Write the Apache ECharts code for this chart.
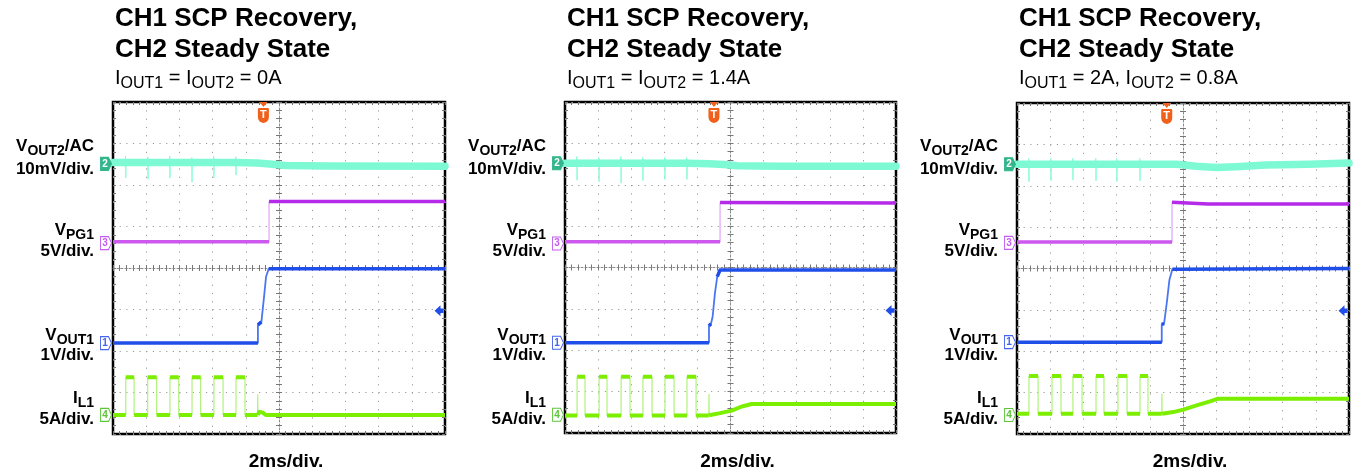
<!DOCTYPE html>
<html>
<head>
<meta charset="utf-8">
<script src="https://cdn.jsdelivr.net/npm/echarts@6/dist/echarts.min.js"></script>
<style>
  html, body { margin: 0; padding: 0; background: #fff; }
  #chart { width: 1353px; height: 476px; }
</style>
</head>
<body>
<div id="chart"></div>
<script>
// Scope captures: horizontal axis in ms from screen centre (2 ms/div, 10 div),
// vertical axis in divisions from screen centre (8 div). Points are [ms, div].

// ---------- Capture 1: IOUT1 = IOUT2 = 0A ----------
const p1Vout2 = [[-10,2.54],[-9.26,2.54],[-9.245,2.70],[-9.23,2.17],[-9.215,2.54],[-7.92,2.54],[-7.905,2.68],[-7.89,2.14],[-7.875,2.54],
  [-6.60,2.54],[-6.585,2.70],[-6.57,2.17],[-6.555,2.54],[-5.27,2.54],[-5.255,2.66],[-5.24,2.07],[-5.225,2.54],[-3.95,2.54],[-3.935,2.70],
  [-3.92,2.17],[-3.905,2.54],[-2.62,2.54],[-2.605,2.68],[-2.59,2.24],[-2.575,2.54],[-1.3,2.53],[-0.4,2.50],[0.4,2.47],[3,2.46],[10,2.45]];
const p1Vpg1 = [[-10,0.63],[-0.60,0.63],[-0.60,1.60],[10,1.60]];
const p1Vout1 = [[-10,-1.81],[-1.27,-1.81],[-1.27,-1.37],[-1.06,-1.30],[-0.90,-0.69],[-0.78,-0.21],[-0.62,-0.02],[10,-0.02]];
const p1IL1 = [[-10,-3.54],[-9.23,-3.54],[-9.23,-2.63],[-8.73,-2.63],[-8.73,-3.54],[-7.91,-3.54],[-7.91,-2.63],[-7.37,-2.63],[-7.37,-3.54],
  [-6.57,-3.54],[-6.57,-2.63],[-6.04,-2.63],[-6.04,-3.54],[-5.24,-3.54],[-5.24,-2.63],[-4.72,-2.63],[-4.72,-3.54],[-3.92,-3.54],[-3.92,-2.63],
  [-3.37,-2.63],[-3.37,-3.54],[-2.59,-3.54],[-2.59,-2.63],[-2.05,-2.63],[-2.05,-3.54],[-1.29,-3.54],[-1.28,-3.04],[-1.27,-3.54],[-1.2,-3.47],
  [-1.0,-3.48],[-0.8,-3.54],[10,-3.54]];

// ---------- Capture 2: IOUT1 = IOUT2 = 1.4A ----------
const p2Vout2 = [[-10,2.52],[-9.30,2.52],[-9.285,2.68],[-9.27,2.11],[-9.255,2.52],[-7.97,2.52],[-7.955,2.66],[-7.94,2.07],[-7.925,2.52],
  [-6.64,2.52],[-6.625,2.68],[-6.61,2.04],[-6.595,2.52],[-5.32,2.52],[-5.305,2.66],[-5.29,2.10],[-5.275,2.52],[-3.99,2.52],[-3.975,2.66],
  [-3.96,2.13],[-3.945,2.52],[-2.66,2.52],[-2.645,2.66],[-2.63,2.13],[-2.615,2.52],[-1.3,2.51],[-0.4,2.49],[0.4,2.46],[3,2.45],[10,2.45]];
const p2Vpg1 = [[-10,0.62],[-0.63,0.62],[-0.63,1.57],[10,1.56]];
const p2Vout1 = [[-10,-1.82],[-1.30,-1.82],[-1.30,-1.41],[-1.18,-1.36],[-1.08,-1.19],[-0.94,-0.62],[-0.80,-0.22],[-0.63,-0.06],[10,-0.06]];
const p2IL1 = [[-10,-3.58],[-9.27,-3.58],[-9.27,-2.64],[-8.79,-2.64],[-8.79,-3.58],[-7.94,-3.58],[-7.94,-2.64],[-7.46,-2.64],[-7.46,-3.58],
  [-6.61,-3.58],[-6.61,-2.64],[-6.07,-2.64],[-6.07,-3.58],[-5.29,-3.58],[-5.29,-2.64],[-4.74,-2.64],[-4.74,-3.58],[-3.96,-3.58],[-3.96,-2.64],
  [-3.41,-2.64],[-3.41,-3.58],[-2.63,-3.58],[-2.63,-2.64],[-2.08,-2.64],[-2.08,-3.58],[-1.31,-3.58],[-1.30,-3.06],[-1.29,-3.57],[-1.2,-3.56],
  [-0.63,-3.52],[0.07,-3.46],[0.68,-3.36],[1.28,-3.30],[10,-3.30]];

// ---------- Capture 3: IOUT1 = 2A, IOUT2 = 0.8A ----------
const p3Vout2 = [[-10,2.52],[-9.31,2.52],[-9.295,2.66],[-9.28,2.10],[-9.265,2.52],[-7.98,2.52],[-7.965,2.66],[-7.95,2.12],[-7.935,2.52],
  [-6.66,2.52],[-6.645,2.66],[-6.63,2.14],[-6.615,2.52],[-5.27,2.52],[-5.255,2.66],[-5.24,2.12],[-5.225,2.52],[-4.01,2.52],[-3.995,2.66],
  [-3.98,2.10],[-3.965,2.52],[-2.62,2.52],[-2.605,2.66],[-2.59,2.12],[-2.575,2.52],[-0.4,2.52],[0.8,2.47],[2.0,2.44],[3.2,2.46],[5,2.50],
  [7.6,2.52],[10,2.55]];
const p3Vpg1 = [[-10,0.64],[-0.66,0.64],[-0.66,1.60],[1.5,1.56],[10,1.56]];
const p3Vout1 = [[-10,-1.78],[-1.28,-1.78],[-1.28,-1.35],[-1.14,-1.33],[-0.98,-0.84],[-0.82,-0.28],[-0.64,-0.02],[10,0.0]];
const p3IL1 = [[-10,-3.51],[-9.28,-3.51],[-9.28,-2.60],[-8.73,-2.60],[-8.73,-3.51],[-7.89,-3.51],[-7.89,-2.60],[-7.35,-2.60],[-7.35,-3.51],
  [-6.63,-3.51],[-6.63,-2.60],[-6.08,-2.60],[-6.08,-3.51],[-5.24,-3.51],[-5.24,-2.60],[-4.76,-2.60],[-4.76,-3.51],[-3.92,-3.51],[-3.92,-2.60],
  [-3.37,-2.60],[-3.37,-3.51],[-2.59,-3.51],[-2.59,-2.60],[-2.11,-2.60],[-2.11,-3.51],[-1.28,-3.51],[-1.27,-3.03],[-1.26,-3.51],[-1.2,-3.51],
  [-0.59,-3.47],[0.02,-3.41],[0.82,-3.31],[1.63,-3.21],[2.07,-3.15],[10,-3.15]];

// Channel reference (ground) levels per capture, order: CH2, CH3, CH1, CH4
const groundLevels = [[2.51, 0.60, -1.81, -3.54], [2.52, 0.58, -1.82, -3.56], [2.52, 0.62, -1.78, -3.54]];
// Trigger time (ms) and CH1 trigger level (div) per capture
const triggerTimes = [-0.94, -1.00, -0.98];
const triggerLevels = [-1.03, -1.04, -1.02];
// VPG1 rising-edge time (ms) per capture
const pgEdgeTimes = [-0.60, -0.63, -0.66];

// Text
const titleLine1 = 'CH1 SCP Recovery,';
const titleLine2 = 'CH2 Steady State';
const loadText = [
  '{m|I}{s|OUT1}{m| = I}{s|OUT2}{m| = 0A}',
  '{m|I}{s|OUT1}{m| = I}{s|OUT2}{m| = 1.4A}',
  '{m|I}{s|OUT1}{m| = 2A, I}{s|OUT2}{m| = 0.8A}'
];
const channelNames = ['{m|V}{s|OUT2}{m|/AC}', '{m|V}{s|PG1}', '{m|V}{s|OUT1}', '{m|I}{s|L1}'];
const channelScales = ['10mV/div.', '5V/div.', '1V/div.', '5A/div.'];
const channelNumbers = ['2', '3', '1', '4'];
const timeScale = '2ms/div.';

const traces = [
  [p1Vout2, p1Vpg1, p1Vout1, p1IL1],
  [p2Vout2, p2Vpg1, p2Vout1, p2IL1],
  [p3Vout2, p3Vpg1, p3Vout1, p3IL1]
];

// ---------- Layout and styles ----------
const FONT = "'Liberation Sans', Arial, Helvetica, sans-serif";
const grids = [
  { left: 113, top: 102, width: 332, height: 332 },
  { left: 565, top: 102, width: 331, height: 331 },
  { left: 1017, top: 103, width: 332, height: 331 }
];
const chStyle = [
  { color: '#7dfad4', edge: '#8afcdb', width: 7.5, edgeWidth: 1, cap: 'round', box: '#33b68c', filled: true },
  { color: '#bd3af0', edge: '#e0a4f6', width: 3.5, edgeWidth: 1.2, cap: 'butt', box: '#c35cf0' },
  { color: '#1f4fe8', edge: '#4b76f2', width: 3.5, edgeWidth: 1.8, cap: 'butt', box: '#4563ee' },
  { color: '#7cee00', edge: '#b0f27a', width: 4, edgeWidth: 1.2, cap: 'butt', box: '#5ec63a' }
];
const PG_LOW = '#cc58ee', PG_HIGH = '#b42ae8';
const PX_PER_MS = 16.6, PX_PER_DIV = 41.5;

// Keep only the slow parts for the heavy trace; fast edges are drawn thin.
function slowParts(points) {
  const out = [];
  for (let i = 0; i < points.length; i++) {
    out.push(points[i]);
    if (i < points.length - 1) {
      const dx = Math.abs(points[i + 1][0] - points[i][0]) * PX_PER_MS;
      const dy = Math.abs(points[i + 1][1] - points[i][1]) * PX_PER_DIV;
      if (dy > 2.5 * dx + 0.5) out.push([points[i][0], '-']);
    }
  }
  return out;
}

const tickStyle = { color: '#777', width: 1 };
function xAxisSet(i) {
  const yMain = 4 * i;
  const common = { gridIndex: i, type: 'value', min: -10, max: 10, interval: 2, axisLabel: { show: false } };
  return [
    Object.assign({}, common, {
      position: 'bottom', axisLine: { show: false, onZero: false },
      axisTick: { show: true, inside: true, length: 3, lineStyle: tickStyle },
      minorTick: { show: true, splitNumber: 5, length: 3, lineStyle: tickStyle },
      splitLine: { show: true, lineStyle: { color: '#9a9a9a', width: 1, type: [1.2, 7.1] } }
    }),
    Object.assign({}, common, {
      position: 'top', axisLine: { show: false, onZero: false },
      axisTick: { show: true, inside: true, length: 3, lineStyle: tickStyle },
      minorTick: { show: true, splitNumber: 5, length: 3, lineStyle: tickStyle },
      splitLine: { show: false }
    }),
    Object.assign({}, common, {
      position: 'bottom', axisLine: { show: true, onZero: true, onZeroAxisIndex: yMain, lineStyle: { color: '#8a8a8a', width: 1, type: [2, 2] } },
      axisTick: { show: true, inside: true, length: 3, lineStyle: tickStyle },
      minorTick: { show: true, splitNumber: 5, length: 3, lineStyle: tickStyle },
      splitLine: { show: false }
    }),
    Object.assign({}, common, {
      position: 'bottom', axisLine: { show: false, onZero: true, onZeroAxisIndex: yMain },
      axisTick: { show: true, inside: false, length: 3, lineStyle: tickStyle },
      minorTick: { show: true, splitNumber: 5, length: 3, lineStyle: tickStyle },
      splitLine: { show: false }
    })
  ];
}
function yAxisSet(i) {
  const xMain = 4 * i;
  const common = { gridIndex: i, type: 'value', min: -4, max: 4, interval: 1, axisLabel: { show: false } };
  return [
    Object.assign({}, common, {
      position: 'left', axisLine: { show: false, onZero: false },
      axisTick: { show: true, inside: true, length: 3, lineStyle: tickStyle },
      minorTick: { show: true, splitNumber: 5, length: 3, lineStyle: tickStyle },
      splitLine: { show: true, lineStyle: { color: '#9a9a9a', width: 1, type: [1.2, 5.44] } }
    }),
    Object.assign({}, common, {
      position: 'right', axisLine: { show: false, onZero: false },
      axisTick: { show: true, inside: true, length: 3, lineStyle: tickStyle },
      minorTick: { show: true, splitNumber: 5, length: 3, lineStyle: tickStyle },
      splitLine: { show: false }
    }),
    Object.assign({}, common, {
      position: 'left', axisLine: { show: true, onZero: true, onZeroAxisIndex: xMain, lineStyle: { color: '#8a8a8a', width: 1, type: [2, 2] } },
      axisTick: { show: true, inside: true, length: 3, lineStyle: tickStyle },
      minorTick: { show: true, splitNumber: 5, length: 3, lineStyle: tickStyle },
      splitLine: { show: false }
    }),
    Object.assign({}, common, {
      position: 'left', axisLine: { show: false, onZero: true, onZeroAxisIndex: xMain },
      axisTick: { show: true, inside: false, length: 3, lineStyle: tickStyle },
      minorTick: { show: true, splitNumber: 5, length: 3, lineStyle: tickStyle },
      splitLine: { show: false }
    })
  ];
}

// Two-tone VPG1 trace: lighter while low, deeper once power-good is released.
function pgColor(i) {
  const f = (pgEdgeTimes[i] + 10) / 20;
  return { type: 'linear', x: 0, y: 0, x2: 1, y2: 0, colorStops: [
    { offset: 0, color: PG_LOW }, { offset: f, color: PG_LOW },
    { offset: f, color: PG_HIGH }, { offset: 1, color: PG_HIGH } ] };
}

const PENTAGON = 'path://M0,0 L8,0 L11,6 L8,12 L0,12 Z';
const SHIELD = 'path://M1,0 L9,0 Q10,0 10,1 L10,9 Q10,14 5,15 Q0,14 0,9 L0,1 Q0,0 1,0 Z';
const NOTCH = 'path://M0,0 L8,0 L4,5 Z';
const ARROW = 'path://M0,5 L6,0 L6,3 L9,3 L9,7 L6,7 L6,10 Z';

const xAxes = [], yAxes = [], series = [], graphics = [];
grids.forEach((g, i) => {
  xAxes.push(...xAxisSet(i));
  yAxes.push(...yAxisSet(i));
  traces[i].forEach((data, c) => {
    const st = chStyle[c];
    const marks = [{
      coord: [-10, groundLevels[i][c]],
      symbol: PENTAGON, symbolSize: [11, 13], symbolOffset: [-7, 0],
      itemStyle: { color: st.filled ? st.box : '#fff', borderColor: st.box, borderWidth: 1 },
      label: { show: true, position: 'inside', formatter: channelNumbers[c], color: st.filled ? '#fff' : st.box,
               fontSize: 10, fontWeight: 'bold', fontFamily: FONT, offset: [-1, 0] }
    }];
    if (c === 2) {
      marks.push({
        coord: [10, triggerLevels[i]], symbol: ARROW, symbolSize: [9, 11], symbolOffset: [-6, 0],
        itemStyle: { color: '#1f4fe8' }, label: { show: false }
      });
      marks.push({
        coord: [triggerTimes[i], 4], symbol: NOTCH, symbolSize: [8, 5], symbolOffset: [0, 2.5],
        itemStyle: { color: '#f0601a' }, label: { show: false }
      });
      marks.push({
        coord: [triggerTimes[i], 4], symbol: SHIELD, symbolSize: [11, 15], symbolOffset: [0, 13.5],
        itemStyle: { color: '#f0601a' },
        label: { show: true, position: 'inside', formatter: 'T', color: '#fff', fontSize: 11, fontWeight: 'bold', fontFamily: FONT, offset: [0, -1] }
      });
    }
    const heavy = c === 1 ? pgColor(i) : st.color;
    series.push({
      type: 'line', xAxisIndex: 4 * i, yAxisIndex: 4 * i, data: data,
      showSymbol: false, symbol: 'none', silent: true, z: 3 + c,
      lineStyle: { color: st.edge, width: st.edgeWidth },
      markPoint: { silent: true, animation: false, data: marks }
    });
    series.push({
      type: 'line', xAxisIndex: 4 * i, yAxisIndex: 4 * i, data: slowParts(data),
      showSymbol: false, symbol: 'none', silent: true, connectNulls: false, z: 3 + c,
      lineStyle: { color: heavy, width: st.width, cap: st.cap, join: 'round' }
    });
  });

  // Titles
  const tx = g.left + 2;
  graphics.push({ type: 'text', x: tx, y: 19, silent: true,
    style: { text: titleLine1, font: 'bold 26px ' + FONT, fill: '#000', align: 'left', verticalAlign: 'middle' } });
  graphics.push({ type: 'text', x: tx, y: 50, silent: true,
    style: { text: titleLine2, font: 'bold 26px ' + FONT, fill: '#000', align: 'left', verticalAlign: 'middle' } });
  graphics.push({ type: 'text', x: tx, y: 78, silent: true,
    style: { text: loadText[i], align: 'left', verticalAlign: 'middle', fill: '#000',
      rich: {
        m: { fontSize: 20, fontFamily: FONT, fill: '#000', lineHeight: 22 },
        s: { fontSize: 16, fontFamily: FONT, fill: '#000', lineHeight: 22, verticalAlign: 'top', padding: [9, 0, 0, 0] }
      } } });

  // Channel labels on the left
  const rx = g.left - 19;
  const nameY = [146.5, 230.5, 335, 398.5];
  const scaleY = [169, 251, 355, 419];
  channelNames.forEach((nm, c) => {
    graphics.push({ type: 'text', x: rx, y: nameY[c], silent: true,
      style: { text: nm, align: 'right', verticalAlign: 'middle', fill: '#000',
        rich: {
          m: { fontSize: 17, fontWeight: 'bold', fontFamily: FONT, fill: '#000', lineHeight: 20 },
          s: { fontSize: 14, fontWeight: 'bold', fontFamily: FONT, fill: '#000', lineHeight: 20, verticalAlign: 'top', padding: [8, 0, 0, 0] }
        } } });
    graphics.push({ type: 'text', x: rx, y: scaleY[c], silent: true,
      style: { text: channelScales[c], font: 'bold 17px ' + FONT, fill: '#000', align: 'right', verticalAlign: 'middle' } });
  });

  // Time scale
  graphics.push({ type: 'text', x: g.left + g.width / 2 + 7, y: 462, silent: true,
    style: { text: timeScale, font: 'bold 19px ' + FONT, fill: '#000', align: 'center', verticalAlign: 'middle' } });
});

const chart = echarts.init(document.getElementById('chart'), null, { renderer: 'canvas' });
chart.setOption({
  animation: false,
  backgroundColor: '#fff',
  grid: grids.map(g => Object.assign({ show: true, borderColor: '#000', borderWidth: 2.5, backgroundColor: '#fff',
    containLabel: false, outerBoundsMode: 'none' }, g)),
  xAxis: xAxes,
  yAxis: yAxes,
  series: series,
  graphic: graphics
});
</script>
</body>
</html>
